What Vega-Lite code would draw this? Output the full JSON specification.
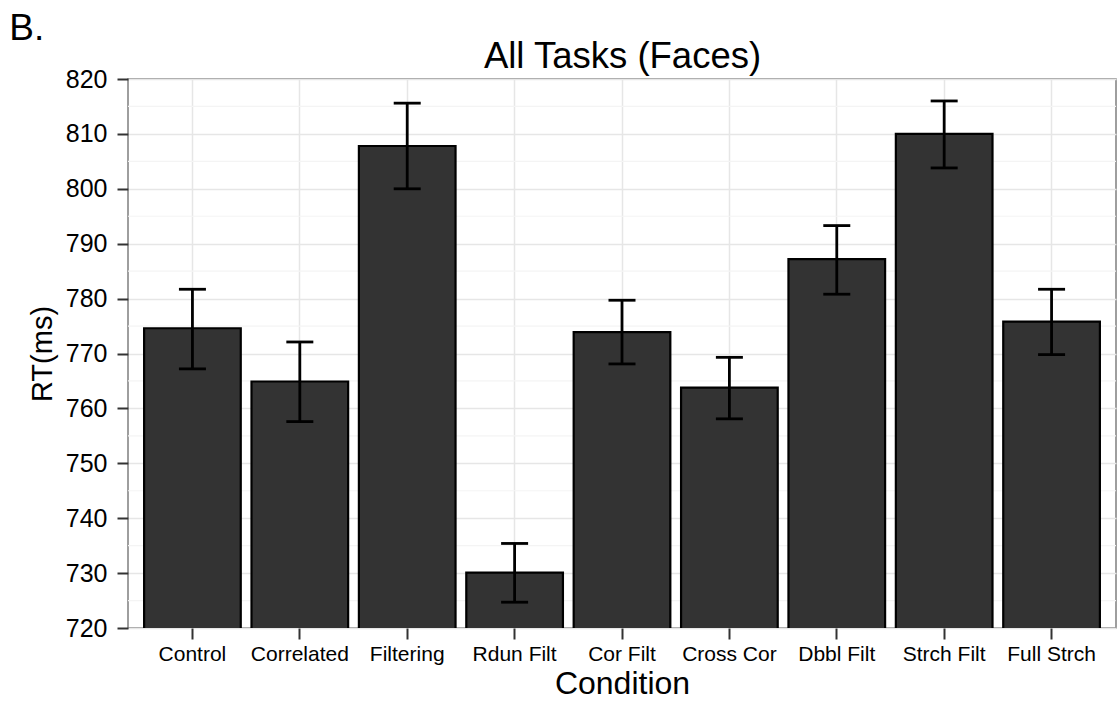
{
  "$schema": "https://vega.github.io/schema/vega-lite/v6.json",
  "width": 988,
  "height": 549,
  "autosize": {"type": "none"},
  "padding": {"left": 128, "top": 79, "right": 1, "bottom": 74},
  "background": "white",
  "title": {
    "text": "B.",
    "anchor": "start",
    "frame": "bounds",
    "font": "Liberation Sans",
    "fontSize": 37,
    "fontWeight": "normal",
    "color": "black",
    "baseline": "alphabetic",
    "offset": 0,
    "dx": -19,
    "dy": 39
  },
  "config": {
    "font": "Liberation Sans",
    "view": {"stroke": "#7f7f7f", "strokeWidth": 1.5},
    "axis": {
      "labelFont": "Liberation Sans",
      "titleFont": "Liberation Sans",
      "labelColor": "black",
      "titleColor": "black",
      "titleFontWeight": "normal",
      "tickColor": "#333333",
      "tickWidth": 2,
      "tickSize": 11,
      "domain": false,
      "gridColor": "#e6e6e6",
      "gridWidth": 1.5
    }
  },
  "datasets": {
    "rt": [
      {"cond": "Control", "mean": 774.6, "lo": 767.2, "hi": 781.7},
      {"cond": "Correlated", "mean": 764.9, "lo": 757.6, "hi": 772.1},
      {"cond": "Filtering", "mean": 807.8, "lo": 800.0, "hi": 815.6},
      {"cond": "Rdun Filt", "mean": 730.1, "lo": 724.7, "hi": 735.4},
      {"cond": "Cor Filt", "mean": 773.9, "lo": 768.1, "hi": 779.7},
      {"cond": "Cross Cor", "mean": 763.8, "lo": 758.1, "hi": 769.3},
      {"cond": "Dbbl Filt", "mean": 787.2, "lo": 780.8, "hi": 793.3},
      {"cond": "Strch Filt", "mean": 810.0, "lo": 803.8, "hi": 816.0},
      {"cond": "Full Strch", "mean": 775.8, "lo": 769.8, "hi": 781.7}
    ],
    "minorGrid": [
      {"rt": 725}, {"rt": 735}, {"rt": 745}, {"rt": 755}, {"rt": 765},
      {"rt": 775}, {"rt": 785}, {"rt": 795}, {"rt": 805}, {"rt": 815}
    ]
  },
  "resolve": {"axis": {"x": "independent", "y": "independent"}},
  "layer": [
    {
      "data": {"name": "minorGrid"},
      "mark": {"type": "rule", "color": "#f4f4f4", "strokeWidth": 1.2},
      "encoding": {
        "y": {"field": "rt", "type": "quantitative", "axis": null,
              "scale": {"domain": [720, 820], "zero": false, "nice": false}}
      }
    },
    {
      "data": {"name": "rt"},
      "mark": {"type": "bar", "fill": "#333333", "stroke": "black", "strokeWidth": 2.2, "clip": true},
      "encoding": {
        "x": {
          "field": "cond", "type": "nominal", "sort": null,
          "scale": {"paddingInner": 0.1, "paddingOuter": 0.15},
          "axis": {
            "title": "Condition", "labelAngle": 0, "labelFontSize": 21,
            "labelPadding": 4, "titleFontSize": 32, "titlePadding": 4,
            "grid": true
          }
        },
        "y": {
          "field": "mean", "type": "quantitative",
          "scale": {"domain": [720, 820], "zero": false, "nice": false},
          "axis": {
            "title": "RT(ms)", "values": [720, 730, 740, 750, 760, 770, 780, 790, 800, 810, 820],
            "labelFontSize": 25, "labelPadding": 10, "titleFontSize": 29,
            "titlePadding": 8, "grid": true
          }
        }
      }
    },
    {
      "data": {"name": "rt"},
      "mark": {"type": "rule", "color": "black", "strokeWidth": 2.8},
      "encoding": {
        "x": {
          "field": "cond", "type": "nominal", "sort": null,
          "axis": {
            "orient": "top", "title": "All Tasks (Faces)", "labels": false,
            "ticks": false, "grid": false, "titleFontSize": 36.5,
            "titleBaseline": "alphabetic", "titlePadding": 12
          }
        },
        "y": {"field": "lo", "type": "quantitative", "axis": null},
        "y2": {"field": "hi"}
      }
    },
    {
      "data": {"name": "rt"},
      "mark": {"type": "tick", "color": "black", "thickness": 2.8, "size": 27, "opacity": 1},
      "encoding": {
        "x": {"field": "cond", "type": "nominal", "sort": null, "axis": null},
        "y": {"field": "lo", "type": "quantitative", "axis": null}
      }
    },
    {
      "data": {"name": "rt"},
      "mark": {"type": "tick", "color": "black", "thickness": 2.8, "size": 27, "opacity": 1},
      "encoding": {
        "x": {"field": "cond", "type": "nominal", "sort": null, "axis": null},
        "y": {"field": "hi", "type": "quantitative", "axis": null}
      }
    }
  ]
}
